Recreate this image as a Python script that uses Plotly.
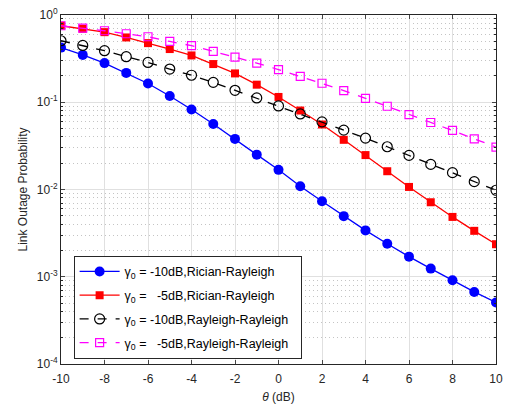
import plotly.graph_objects as go

theta = list(range(-10, 11))
rician_m10 = [0.423, 0.349, 0.281, 0.217, 0.164, 0.118, 0.0827, 0.0563, 0.0380, 0.0251, 0.0168,
              0.0109, 0.00735, 0.00495, 0.0034, 0.00239, 0.0017, 0.00124, 0.00091, 0.00067, 0.000507]
rician_m5 = [0.753, 0.695, 0.636, 0.553, 0.476, 0.407, 0.344, 0.274, 0.214, 0.159, 0.115,
             0.0804, 0.0556, 0.0371, 0.0248, 0.0162, 0.0107, 0.00714, 0.00485, 0.00336, 0.00236]
rayl_m10 = [0.507, 0.448, 0.390, 0.333, 0.286, 0.240, 0.204, 0.169, 0.137, 0.112, 0.0907,
            0.0735, 0.0596, 0.0479, 0.0388, 0.0309, 0.0246, 0.0194, 0.0156, 0.0123, 0.0098]
rayl_m5 = [0.753, 0.707, 0.660, 0.610, 0.563, 0.498, 0.445, 0.383, 0.329, 0.281, 0.237,
           0.198, 0.165, 0.136, 0.111, 0.090, 0.0723, 0.0586, 0.0475, 0.0381, 0.0306]

names = ["γ<sub>0</sub> = -10dB,Rician-Rayleigh",
         "γ<sub>0</sub> =\u00a0\u00a0\u00a0-5dB,Rician-Rayleigh",
         "γ<sub>0</sub> = -10dB,Rayleigh-Rayleigh",
         "γ<sub>0</sub> =\u00a0\u00a0\u00a0-5dB,Rayleigh-Rayleigh"]
xtickvals = list(range(-10, 11, 2))
xticktext = [str(v) for v in xtickvals]
ytickvals = [1e-4, 1e-3, 1e-2, 1e-1, 1]
yticktext = ["10<sup>-4</sup>", "10<sup>-3</sup>", "10<sup>-2</sup>", "10<sup>-1</sup>", "10<sup>0</sup>"]
yminorvals = [m * d for d in [1e-4, 1e-3, 1e-2, 1e-1] for m in range(2, 10)]

pad = "\u00a0\u00a0"
fig = go.Figure()
fig.add_trace(go.Scatter(x=theta, y=rician_m10, name=names[0] + pad, legendgroup="a", mode="lines+markers",
                         line=dict(color="#0000ff", width=1.3),
                         marker=dict(symbol="circle", size=10, color="#0000ff")))
fig.add_trace(go.Scatter(x=theta, y=rician_m5, name=names[1] + pad, legendgroup="b", mode="lines+markers",
                         line=dict(color="#ff0000", width=1.3),
                         marker=dict(symbol="square", size=8, color="#ff0000")))
fig.add_trace(go.Scatter(x=theta, y=rayl_m10, name=names[2] + pad, legendgroup="c", mode="lines+markers",
                         line=dict(color="#000000", width=1.3, dash="dash"),
                         marker=dict(symbol="circle-open", size=10, color="#000000", line=dict(width=1.2))))
fig.add_trace(go.Scatter(x=theta, y=rayl_m5, name=names[3] + pad, legendgroup="d", mode="lines+markers",
                         line=dict(color="#ff00ff", width=1.3, dash="dash"),
                         marker=dict(symbol="square-open", size=8, color="#ff00ff", line=dict(width=1.2))))

font = "Liberation Sans, Arial, sans-serif"
fig.update_layout(
    width=509, height=409,
    margin=dict(l=61, r=6, t=13, b=45),
    paper_bgcolor="white", plot_bgcolor="white",
    font=dict(family=font, size=12, color="#262626"),
    showlegend=True,
    legend=dict(x=0.029, y=0.31, xanchor="left", yanchor="top",
                bgcolor="white", bordercolor="#262626", borderwidth=1,
                traceorder="grouped", tracegroupgap=4.5,
                font=dict(size=12.5, color="#000000"), itemwidth=40),
    xaxis=dict(range=[-10, 10], tickvals=xtickvals, ticktext=xticktext, ticks="inside", ticklen=4,
               showline=True, linecolor="#262626", linewidth=1, mirror="ticks",
               showgrid=True, gridcolor="#e0e0e0", gridwidth=1, zeroline=False,
               ticklabelstandoff=4,
               tickfont=dict(size=12), title=dict(text="<i>θ</i> (dB)", font=dict(size=12), standoff=7)),
    yaxis=dict(type="log", range=[-4, 0], tickvals=ytickvals, ticktext=yticktext,
               ticks="inside", ticklen=4, showline=True, linecolor="#262626", linewidth=1, mirror="ticks",
               showgrid=True, gridcolor="#e0e0e0", gridwidth=1, zeroline=False,
               tickfont=dict(size=12),
               minor=dict(tickmode="array", tickvals=yminorvals, ticks="inside", ticklen=2,
                          showgrid=True, gridcolor="#c4c4c4", griddash="1px,3px", tickcolor="#262626"),
               title=dict(text="Link Outage Probability", font=dict(size=12), standoff=6)),
)

fig.write_html("out.html")
